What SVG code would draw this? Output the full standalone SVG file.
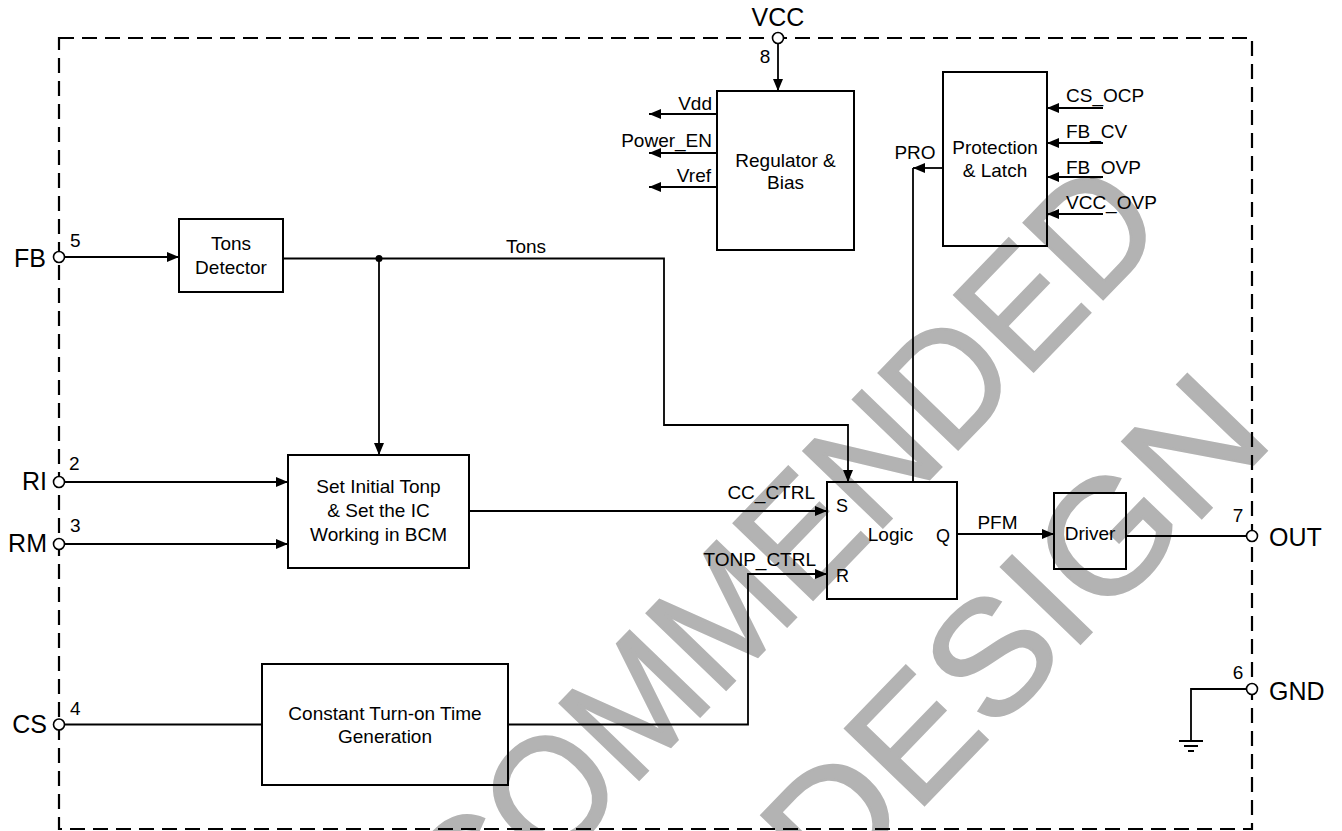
<svg xmlns="http://www.w3.org/2000/svg" width="1342" height="831" viewBox="0 0 1342 831">
<style>
text{font-family:"Liberation Sans",Arial,sans-serif;fill:#000}
.wm{font-size:160px;fill:#b3b3b3;stroke:#b3b3b3;stroke-width:2.5}
.pin{font-size:25px}
.num{font-size:19px}
.lbl{font-size:19px}
.blk{font-size:19px}
.sr{font-size:18px}
.box{fill:none;stroke:#000;stroke-width:2}
.w{fill:none;stroke:#000;stroke-width:1.8}
.a{marker-end:url(#arr)}
.pc{fill:#fff;stroke:#000;stroke-width:1.6}
.mid{text-anchor:middle}
.end{text-anchor:end}
</style>
<defs>
<marker id="arr" markerUnits="userSpaceOnUse" markerWidth="13" markerHeight="10" refX="12" refY="5" orient="auto">
<path d="M0,0 L12,5 L0,10 z" fill="#000"/>
</marker>
</defs>
<rect width="1342" height="831" fill="#fff"/>
<g id="watermark">
<text class="wm" x="1170" y="230" text-anchor="end" textLength="1567" lengthAdjust="spacingAndGlyphs" transform="rotate(-46 1170 230)">NOT RECOMMENDED</text>
<text class="wm" x="1276" y="441" text-anchor="end" textLength="1475" lengthAdjust="spacingAndGlyphs" transform="rotate(-46 1276 441)">FOR NEW DESIGN</text>
</g>
<g id="border">
<rect x="59" y="38" width="1193" height="791" fill="none" stroke="#000" stroke-width="2.2" stroke-dasharray="15 8"/>
</g>
<g id="connectors">
<path class="w a" d="M778,44 V91"/>
<path class="w a" d="M717,114 H649"/>
<path class="w a" d="M717,153 H649"/>
<path class="w a" d="M717,187 H649"/>
<path class="w a" d="M1103,108 H1047"/>
<path class="w a" d="M1103,143 H1047"/>
<path class="w a" d="M1103,177 H1047"/>
<path class="w a" d="M1103,214 H1047"/>
<path class="w a" d="M943,168 H913"/>
<path class="w" d="M913,168 V482"/>
<path class="w a" d="M64.5,257 H179"/>
<path class="w a" d="M283,258.5 H664 V425 H848 V482"/>
<path class="w a" d="M379,258.5 V455"/>
<circle cx="379" cy="258.5" r="3.5" fill="#000"/>
<path class="w a" d="M64.5,482 H288"/>
<path class="w a" d="M64.5,544 H288"/>
<path class="w a" d="M469,511 H827"/>
<path class="w" d="M64.5,724.5 H262"/>
<path class="w a" d="M508,724.5 H748 V574 H827"/>
<path class="w a" d="M957,534 H1054"/>
<path class="w" d="M1126,536 H1246.5"/>
<path class="w" d="M1246.5,689 H1191 V741"/>
<path class="w" d="M1179,741 H1203 M1184,746 H1198 M1188,751 H1194"/>
</g>
<g id="pin-vcc">
<circle class="pc" cx="778" cy="38" r="5.5"/>
<text class="pin mid" x="778" y="26">VCC</text>
<text class="num mid" x="765" y="63">8</text>
</g>
<g id="pin-fb">
<circle class="pc" cx="59" cy="257" r="5.5"/>
<text class="pin end" x="46" y="267">FB</text>
<text class="num" x="70" y="247">5</text>
</g>
<g id="pin-ri">
<circle class="pc" cx="59" cy="482" r="5.5"/>
<text class="pin end" x="47" y="490">RI</text>
<text class="num" x="69" y="470">2</text>
</g>
<g id="pin-rm">
<circle class="pc" cx="59" cy="544" r="5.5"/>
<text class="pin end" x="47" y="552">RM</text>
<text class="num" x="70" y="532">3</text>
</g>
<g id="pin-cs">
<circle class="pc" cx="59" cy="724.5" r="5.5"/>
<text class="pin end" x="47" y="733">CS</text>
<text class="num" x="70" y="715">4</text>
</g>
<g id="pin-out">
<circle class="pc" cx="1252" cy="536" r="5.5"/>
<text class="pin" x="1269" y="546">OUT</text>
<text class="num mid" x="1238" y="522">7</text>
</g>
<g id="pin-gnd">
<circle class="pc" cx="1252" cy="689" r="5.5"/>
<text class="pin" x="1269" y="700">GND</text>
<text class="num mid" x="1238" y="679">6</text>
</g>
<g id="regulator">
<rect class="box" x="717" y="91" width="137" height="159"/>
<text class="blk mid" x="785.5" y="167">Regulator &amp;</text>
<text class="blk mid" x="785.5" y="189">Bias</text>
<text class="lbl end" x="712" y="110">Vdd</text>
<text class="lbl end" x="712" y="147">Power_EN</text>
<text class="lbl end" x="711" y="182">Vref</text>
</g>
<g id="protection">
<rect class="box" x="943" y="72" width="104" height="174"/>
<text class="blk mid" x="995" y="153.5">Protection</text>
<text class="blk mid" x="995" y="176.5">&amp; Latch</text>
<text class="lbl" x="1066" y="102">CS_OCP</text>
<text class="lbl" x="1066" y="137.5">FB_CV</text>
<text class="lbl" x="1066" y="173.5">FB_OVP</text>
<text class="lbl" x="1066" y="208.5">VCC_OVP</text>
<text class="lbl mid" x="915" y="158.5">PRO</text>
</g>
<g id="tons-detector">
<rect class="box" x="179" y="219" width="104" height="73"/>
<text class="blk mid" x="231" y="249.5">Tons</text>
<text class="blk mid" x="231" y="273.5">Detector</text>
<text class="lbl mid" x="526" y="253">Tons</text>
</g>
<g id="set-initial">
<rect class="box" x="288" y="455" width="181" height="113"/>
<text class="blk mid" x="378.5" y="493">Set Initial Tonp</text>
<text class="blk mid" x="378.5" y="517">&amp; Set the IC</text>
<text class="blk mid" x="378.5" y="540.5">Working in BCM</text>
</g>
<g id="logic">
<rect class="box" x="827" y="482" width="130" height="117"/>
<text class="blk mid" x="890.5" y="541">Logic</text>
<text class="sr" x="836" y="512">S</text>
<text class="sr" x="836" y="582">R</text>
<text class="sr" x="936" y="541.5">Q</text>
<text class="lbl end" x="815" y="499">CC_CTRL</text>
<text class="lbl end" x="816" y="565.5">TONP_CTRL</text>
<text class="lbl mid" x="997.5" y="529">PFM</text>
</g>
<g id="driver">
<rect class="box" x="1054" y="493" width="72" height="76"/>
<text class="blk mid" x="1090" y="539.5">Driver</text>
</g>
<g id="constant-ton">
<rect class="box" x="262" y="664" width="246" height="121"/>
<text class="blk mid" x="385" y="719.5">Constant Turn-on Time</text>
<text class="blk mid" x="385" y="743">Generation</text>
</g>
</svg>
